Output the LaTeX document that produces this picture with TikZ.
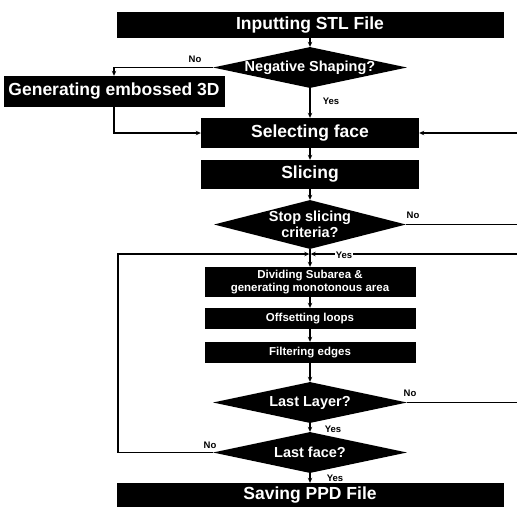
\documentclass[tikz,border=0pt]{standalone}
\usepackage{fontspec}
\setmainfont{Liberation Sans}
\usetikzlibrary{shapes.geometric,arrows.meta}
\tikzset{
	bigbox/.style={fill=black,text=white,inner sep=0pt,font=\bfseries\fontsize{17.5}{18}\selectfont},
	smallbox/.style={fill=black,text=white,inner sep=0pt,align=center,font=\bfseries\fontsize{11.5}{13}\selectfont},
	decision/.style={diamond,fill=black,inner sep=0pt},
	dtext/.style={text=white,inner sep=0pt,align=center,font=\bfseries\fontsize{14.5}{15.5}\selectfont},
	yesno/.style={inner sep=0.5pt,font=\bfseries\fontsize{9.5}{10}\selectfont},
	flow/.style={line width=1.3pt,-{Stealth[length=5pt,width=4.5pt]}}
}
\begin{document}
\begin{tikzpicture}[x=1pt,y=-1pt]
				\useasboundingbox (0,0) rectangle (517,507);
				%boxes
				\node[bigbox,minimum width=387pt,minimum height=26pt] (inp) at (310,25) {Inputting STL File};
				\node[bigbox,minimum width=221pt,minimum height=31pt] (gen) at (114,91.5) {Generating embossed 3D};
				\node[bigbox,minimum width=218pt,minimum height=30pt] (sel) at (310,133) {Selecting face};
				\node[bigbox,minimum width=218pt,minimum height=29pt] (slc) at (310,174.5) {Slicing};
				\node[smallbox,minimum width=211pt,minimum height=30pt] (div) at (310,282) {Dividing Subarea \&\\generating monotonous area};
				\node[smallbox,minimum width=211pt,minimum height=21pt] (off) at (310,318.5) {Offsetting loops};
				\node[smallbox,minimum width=211pt,minimum height=21pt] (filt) at (310,352.5) {Filtering edges};
				\node[bigbox,minimum width=387pt,minimum height=24pt] (save) at (310,495) {Saving PPD File};
				%decisions
				\node[decision,minimum width=194pt,minimum height=41pt,label={[dtext]center:Negative Shaping?}] (neg) at (310,67.5) {};
				\node[decision,minimum width=192pt,minimum height=49pt,label={[dtext]center:{Stop slicing\\criteria?}}] (stop) at (310,224.5) {};
				\node[decision,minimum width=194pt,minimum height=41pt,label={[dtext]center:Last Layer?}] (layer) at (310,402.5) {};
				\node[decision,minimum width=194pt,minimum height=41pt,label={[dtext]center:Last face?}] (face) at (310,452.5) {};
				%corners
				\coordinate (jn) at (310,254);
				\coordinate (redge) at (517.2,254);
				\coordinate (ledge) at (118,254);
				%main line
				\draw[flow] (inp) -- (neg);
				\draw[flow] (neg) -- (sel);
				\draw[flow] (sel) -- (slc);
				\draw[flow] (slc) -- (stop);
				\draw[flow] (stop) -- (div);
				\draw[flow] (div) -- (off);
				\draw[flow] (off) -- (filt);
				\draw[flow] (filt) -- (layer);
				\draw[flow] (layer) -- (face);
				\draw[flow] (face) -- (save);
				%branches
				\draw[flow] (neg.west) -| (gen.north);
				\draw[flow] (gen.south) |- (sel.west);
				\draw[flow] (stop.east) -- (stop.east -| redge) |- (sel.east);
				\draw[flow,shorten >=0.7pt] (layer.east) -| (redge) -- (jn);
				\draw[flow,shorten >=0.7pt] (face.west) -| (ledge) -- (jn);
				%labels
				\node[yesno] (no1) at (195,59) {No};
				\node[yesno] (yes1) at (331,101) {Yes};
				\node[yesno] (no2) at (413,215) {No};
				\node[yesno,fill=white] (yes2) at (344,255) {Yes};
				\node[yesno] (no3) at (410,393) {No};
				\node[yesno] (yes3) at (333,429) {Yes};
				\node[yesno] (no4) at (210,445) {No};
				\node[yesno] (yes4) at (335,478) {Yes};
			\end{tikzpicture}
\end{document}
